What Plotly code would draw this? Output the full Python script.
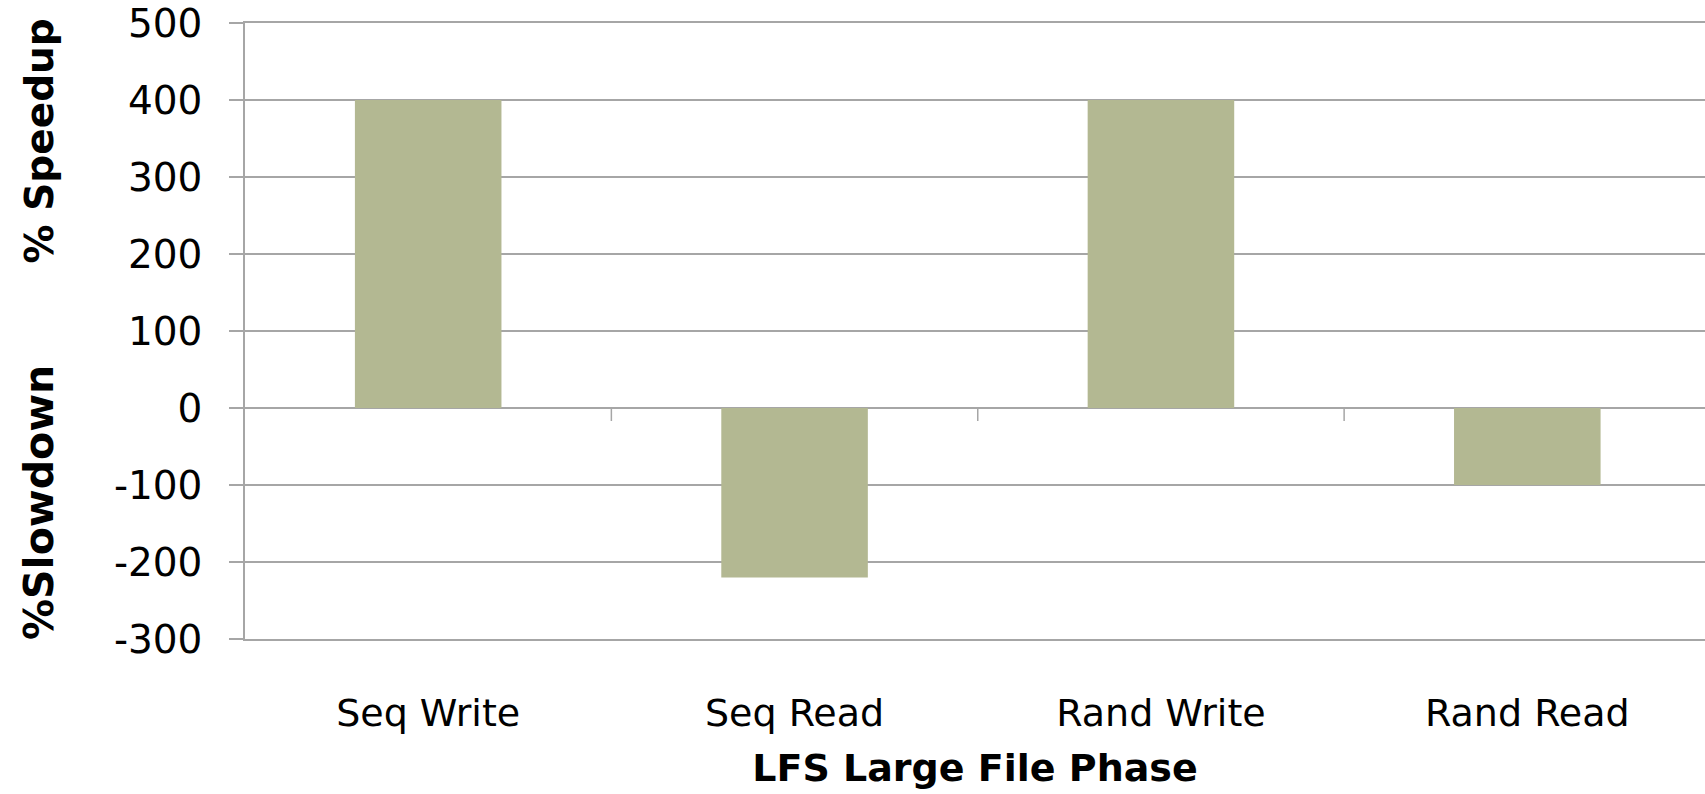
import plotly.graph_objects as go

# LFS large-file benchmark phases and their % speedup (negative = slowdown)
phases = ["Seq Write", "Seq Read", "Rand Write", "Rand Read"]
speedup_pct = [400, -220, 400, -100]
y_ticks = [500, 400, 300, 200, 100, 0, -100, -200, -300]
y_tick_labels = ["500", "400", "300", "200", "100", "0", "-100", "-200", "-300"]

BAR_COLOR = "#b3b892"
GRID_COLOR = "#a6a6a6"
FONT = "DejaVu Sans"

fig = go.Figure(
    go.Bar(
        x=phases,
        y=speedup_pct,
        marker=dict(color=BAR_COLOR, line=dict(width=0)),
    )
)

# small tick marks on the zero line between categories
shapes = []
for i in range(len(phases) - 1):
    shapes.append(dict(
        type="line", xref="x", yref="y", ysizemode="pixel", yanchor=0,
        x0=i + 0.5, x1=i + 0.5, y0=0, y1=-13,
        line=dict(color=GRID_COLOR, width=1.5),
    ))

fig.update_layout(
    width=1705,
    height=794,
    margin=dict(l=245, r=0, t=23, b=155),
    paper_bgcolor="white",
    plot_bgcolor="white",
    bargap=0.6,
    showlegend=False,
    font=dict(family=FONT, color="black", size=38),
    shapes=shapes,
    xaxis=dict(
        range=[-0.5, 3.485],
        showgrid=False,
        showline=True,
        mirror=True,
        linecolor=GRID_COLOR,
        linewidth=1.5,
        ticks="",
        ticklabelstandoff=40,
        tickfont=dict(family=FONT, size=38, color="black"),
        title=dict(
            text="<b>LFS Large File Phase</b>",
            font=dict(family=FONT, size=38, color="black"),
            standoff=20,
        ),
    ),
    yaxis=dict(
        range=[-300, 500],
        tickvals=y_ticks,
        ticktext=y_tick_labels,
        ticks="outside",
        ticklen=14,
        tickwidth=1.5,
        tickcolor=GRID_COLOR,
        ticklabelstandoff=19,
        tickfont=dict(family=FONT, size=39, color="black"),
        showgrid=True,
        gridcolor=GRID_COLOR,
        gridwidth=1.5,
        zeroline=True,
        zerolinecolor=GRID_COLOR,
        zerolinewidth=1.5,
        showline=True,
        linecolor=GRID_COLOR,
        linewidth=1.5,
    ),
    annotations=[
        dict(text="<b>% Speedup</b>", textangle=-90, xref="paper", yref="paper",
             x=-0.141, y=0.808, xanchor="center", yanchor="middle", showarrow=False,
             font=dict(family=FONT, size=39, color="black")),
        dict(text="<b>%Slowdown</b>", textangle=-90, xref="paper", yref="paper",
             x=-0.141, y=0.221, xanchor="center", yanchor="middle", showarrow=False,
             font=dict(family=FONT, size=41, color="black")),
    ],
)

fig.write_html("out.html")
